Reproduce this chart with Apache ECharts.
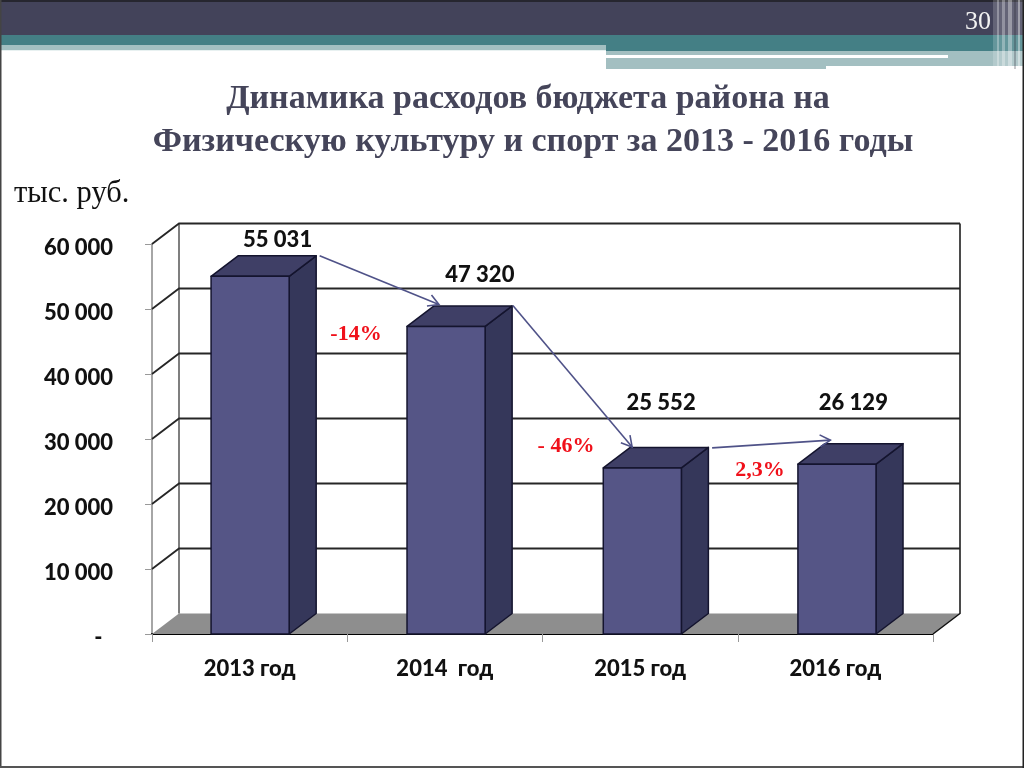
<!DOCTYPE html>
<html><head><meta charset="utf-8">
<style>html,body{margin:0;padding:0;background:#fff}#c{width:1024px;height:768px}</style>
<script src="https://cdn.jsdelivr.net/npm/echarts@6/dist/echarts.min.js"></script>
</head><body><div id="c"></div>
<script>
const categories = ['2013 год', '2014  год', '2015 год', '2016 год'];
const values = [55031, 47320, 25552, 26129];
const tickValues = [0, 10000, 20000, 30000, 40000, 50000, 60000];
const changes = ['-14%', '- 46%', '2,3%'];
const titleLines = ['Динамика расходов бюджета района на', 'Физическую культуру и спорт за 2013 - 2016 годы'];

const DX = 27, DY = 20.5;
const barShift = [0.5, 1.2, 2.2, 1.6];
const labelOffsets = [[28, -36], [35, -52], [21, -65], [18, -61]];
const arrowOffsets = [[[70, -20.5], [-6, -22]], [[68, -21], [-8, -21]], [[72, -20], [-5, -24]]];
const changePos = [[356, 334], [566, 446], [760, 470]];
const fmt = v => String(v).replace(/\B(?=(\d{3})+$)/g, ' ');
const SANS = 'Lato', SERIF = '"Liberation Serif"';

function rect(x, y, w, h, fill, opacity) {
  return {type: 'rect', shape: {x, y, width: w, height: h}, style: {fill, opacity: opacity == null ? 1 : opacity}, silent: true};
}
const header = [
  rect(0, 0, 1024, 35, '#43435a'),
  rect(0, 0, 1024, 2, '#26262f'),
  rect(0, 35, 1024, 16, '#447f85'),
  rect(0, 45, 606, 5, '#a3bfc1'),
  rect(0, 50, 606, 1, '#e8f1f1'),
  rect(606, 51, 418, 18, '#a3bfc1'),
  rect(606, 55, 342, 3, '#ffffff'),
  rect(826, 66, 198, 3, '#ffffff'),
  rect(993, 0, 31, 69, '#ffffff', 0.18),
  rect(997, 0, 2, 69, '#ffffff', 0.3),
  rect(1002, 0, 3, 69, '#ffffff', 0.3),
  rect(1008, 0, 4, 69, '#ffffff', 0.35),
  rect(1014, 0, 2, 69, '#20202c', 0.25),
  rect(1018, 0, 2, 69, '#ffffff', 0.4),
  rect(0, 0, 1.5, 768, '#444444'),
  rect(0, 766, 1024, 2, '#555555'),
  rect(1022.5, 0, 1.5, 768, '#222222')
];
const texts = [
  {type: 'text', left: 965, top: 9, style: {text: '30', font: '26px ' + SERIF, fill: '#f2f2f2'}, silent: true},
  {type: 'text', x: 528, y: 99, style: {text: titleLines[0], font: 'bold 34px ' + SERIF, fill: '#45455a', textAlign: 'center', textVerticalAlign: 'middle'}, silent: true},
  {type: 'text', x: 533, y: 142, style: {text: titleLines[1], font: 'bold 34px ' + SERIF, fill: '#45455a', textAlign: 'center', textVerticalAlign: 'middle'}, silent: true},
  {type: 'text', x: 14, y: 194, style: {text: 'тыс. руб.', font: '30.5px ' + SERIF, fill: '#111', textAlign: 'left', textVerticalAlign: 'middle'}, silent: true}
].concat(changes.map((t, i) => ({type: 'text', z: 50, x: changePos[i][0], y: changePos[i][1],
  style: {text: t, font: 'bold 22px ' + SERIF, fill: '#f0101a', textAlign: 'center', textVerticalAlign: 'middle'}, silent: true})));

const chart = echarts.init(document.getElementById('c'), null, {renderer: 'canvas'});
chart.setOption({
  animation: false,
  backgroundColor: '#fff',
  grid: {left: 152, top: 244, width: 781, height: 390, containLabel: false},
  xAxis: {
    type: 'category', data: categories,
    axisLine: {show: true, lineStyle: {color: '#000', width: 2}},
    axisTick: {show: true, length: 8, lineStyle: {color: '#999', width: 1}},
    axisLabel: {color: '#111', fontFamily: SANS, fontWeight: 900, fontSize: 22, margin: 24}
  },
  yAxis: {
    type: 'value', min: 0, max: 60000, interval: 10000,
    axisLine: {show: true, lineStyle: {color: '#888', width: 1.5}},
    axisTick: {show: true, length: 7, lineStyle: {color: '#999', width: 1}},
    splitLine: {show: false},
    axisLabel: {color: '#111', fontFamily: SANS, fontWeight: 900, fontSize: 22, margin: 39, align: 'right',
      verticalAlign: 'top', lineHeight: 8,
      formatter: v => v === 0 ? '-  ' : fmt(v)}
  },
  graphic: {elements: header.concat(texts)},
  series: [
    { // floor and walls
      type: 'custom', z: 1, data: [[0, 0]], encode: {x: 0, y: 1}, silent: true,
      renderItem(params, api) {
        const c = params.coordSys, yb = c.y + c.height, xr = c.x + c.width;
        return {type: 'group', children: [
          {type: 'polygon', shape: {points: [[c.x, yb], [c.x + DX, yb - DY], [xr + DX, yb - DY], [xr, yb]]}, style: {fill: '#8e8e8e'}},
          {type: 'polyline', shape: {points: [[c.x + DX, c.y - DY], [c.x + DX, yb - DY]]}, style: {stroke: '#555', lineWidth: 1.5, fill: 'none'}},
          {type: 'polyline', shape: {points: [[xr + DX, c.y - DY], [xr + DX, yb - DY], [xr, yb]]}, style: {stroke: '#111', lineWidth: 1.5, fill: 'none'}}
        ]};
      }
    },
    { // gridlines on the left and back walls
      type: 'custom', z: 2, data: tickValues.map(v => [0, v]), encode: {x: 0, y: 1}, silent: true,
      renderItem(params, api) {
        const c = params.coordSys, y = api.coord([0, api.value(1)])[1];
        if (api.value(1) === 0) return null;
        return {type: 'polyline', shape: {points: [[c.x, y], [c.x + DX, y - DY], [c.x + c.width + DX, y - DY]]},
          style: {stroke: '#262626', lineWidth: 1.8, fill: 'none'}};
      }
    },
    { // 3D bars
      type: 'custom', z: 5, data: values.map((v, i) => [i, v]), encode: {x: 0, y: 1}, silent: true,
      renderItem(params, api) {
        const i = api.value(0);
        const p = api.coord([i, api.value(1)]), b = api.coord([i, 0]);
        const w = api.size([1, 0])[0] * 0.4;
        const l = p[0] - w / 2 + barShift[i], r = l + w, t = p[1], B = b[1];
        const edge = {stroke: '#14142e', lineWidth: 1.5, lineJoin: 'round'};
        return {type: 'group', children: [
          {type: 'polygon', shape: {points: [[r, t], [r + DX, t - DY], [r + DX, B - DY], [r, B]]}, style: {...edge, fill: '#35375a'}},
          {type: 'polygon', shape: {points: [[l, t], [l + DX, t - DY], [r + DX, t - DY], [r, t]]}, style: {...edge, fill: '#3f3f66'}},
          {type: 'polygon', shape: {points: [[l, t], [r, t], [r, B], [l, B]]}, style: {...edge, fill: '#555586'}}
        ]};
      }
    },
    { // arrows between bars
      type: 'custom', z: 10, data: values.slice(0, -1).map((v, i) => [i, v, values[i + 1]]), encode: {x: 0, y: 1}, silent: true,
      renderItem(params, api) {
        const i = api.value(0), o = arrowOffsets[i];
        const a = api.coord([i, api.value(1)]), e = api.coord([i + 1, api.value(2)]);
        const s = [a[0] + o[0][0], a[1] + o[0][1]], t = [e[0] + o[1][0], e[1] + o[1][1]];
        const ang = Math.atan2(t[1] - s[1], t[0] - s[0]), L = 12, sp = 0.52;
        const h1 = [t[0] - L * Math.cos(ang - sp), t[1] - L * Math.sin(ang - sp)];
        const h2 = [t[0] - L * Math.cos(ang + sp), t[1] - L * Math.sin(ang + sp)];
        const st = {stroke: '#4f5288', lineWidth: 1.6, fill: 'none'};
        return {type: 'group', children: [
          {type: 'polyline', shape: {points: [s, t]}, style: st},
          {type: 'polyline', shape: {points: [h1, t, h2]}, style: st}
        ]};
      }
    },
    { // value labels
      type: 'custom', z: 11, data: values.map((v, i) => [i, v]), encode: {x: 0, y: 1}, silent: true,
      renderItem(params, api) {
        const i = api.value(0), p = api.coord([i, api.value(1)]), o = labelOffsets[i];
        return {type: 'text', x: p[0] + o[0], y: p[1] + o[1], style: {text: fmt(api.value(1)),
          font: '900 22px ' + SANS, fill: '#111', textAlign: 'center', textVerticalAlign: 'middle'}};
      }
    }
  ]
});
</script></body></html>
